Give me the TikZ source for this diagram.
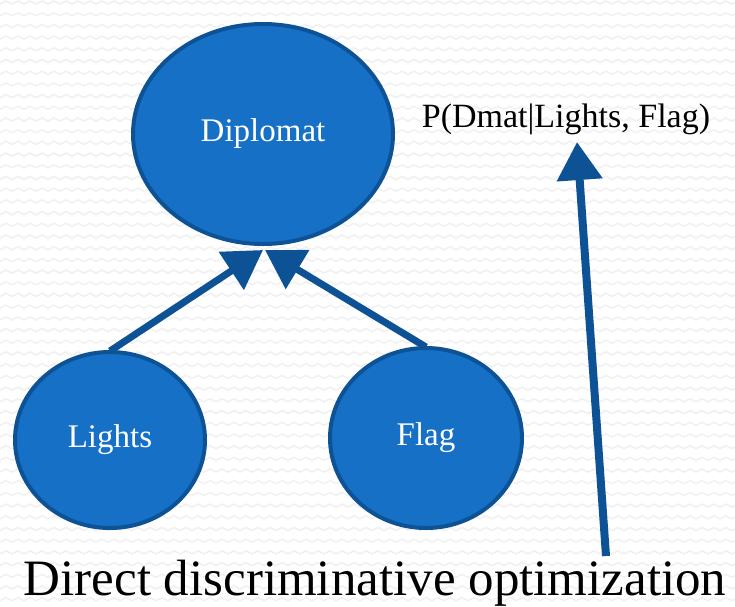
\documentclass[tikz,border=0pt]{standalone}
\usepackage{fontspec}
\setmainfont{Liberation Serif}
\usetikzlibrary{arrows.meta,shapes.geometric}
\definecolor{nodefill}{HTML}{1570C6}
\definecolor{nodeedge}{HTML}{0E5296}
\definecolor{zig}{HTML}{F1F1F1}
\tikzset{
  bn/.style={ellipse, draw=nodeedge, line width=4pt, fill=nodefill, text=white, font=\fontsize{33}{36}\selectfont, inner sep=0pt},
  conn/.style={draw=nodeedge, line width=7pt, -{Triangle[length=38pt, width=44pt]}},
}
\begin{document}
\begin{tikzpicture}[x=1pt, y=-1pt]
\useasboundingbox (0,0) rectangle (735,606);
\fill[white] (0,0) rectangle (735,606);
\foreach \r in {0,...,52} {
  \draw[zig, line width=1.6pt] (0,\r*11.7+4) \foreach \c in {0,...,62} { -- ++(6,-3) -- ++(6,3) };
}
\node[bn, minimum width=260pt, minimum height=220pt] (dip) at (263,134) {Diplomat};
\node[bn, minimum width=190pt, minimum height=176pt] (lig) at (110,440) {Lights};
\node[bn, minimum width=192pt, minimum height=180pt] (flg) at (426,438) {Flag};
\node[font=\fontsize{34}{38}\selectfont, anchor=base] (pt) at (566,127) {P(Dmat|Lights, Flag)};
\node[font=\fontsize{51}{56}\selectfont, anchor=base] (ddo) at (375,595) {Direct discriminative optimization};
\coordinate (tipL) at (263,250);
\coordinate (tipR) at (265,250);
\coordinate (vstart) at (606,556);
\coordinate (vtip) at (577,142);
\draw[conn] (lig.north) ++(0,1) -- (tipL);
\draw[conn] (flg.north) ++(0,1) -- (tipR);
\draw[conn, line width=8pt] (vstart) -- (vtip);
\end{tikzpicture}
\end{document}
